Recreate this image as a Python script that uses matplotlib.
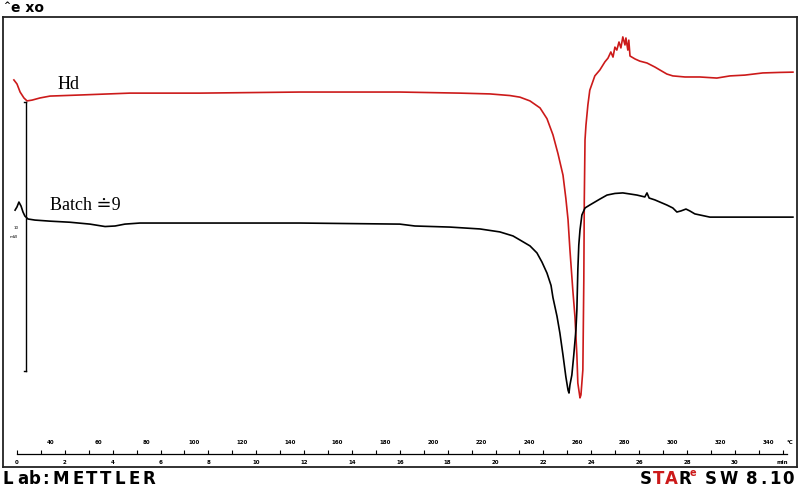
import matplotlib.pyplot as plt
import matplotlib.transforms as mtransforms

# time in min, heat flow in mW (offset traces)
hd_time = [-0.13, 0.0, 0.13, 0.29, 0.42, 0.63, 0.96, 1.38, 2.63, 4.72, 7.65, 11.83, 16.0,
           18.51, 19.77, 20.6, 21.02, 21.44, 21.86, 22.15, 22.4, 22.61, 22.82, 22.94, 23.03,
           23.11, 23.23, 23.32, 23.4, 23.44, 23.53, 23.57, 23.65, 23.69, 23.71, 23.74, 23.78,
           23.86, 23.94, 24.15, 24.36, 24.57, 24.7, 24.82, 24.91, 24.99, 25.07, 25.16, 25.24,
           25.32, 25.41, 25.45, 25.53, 25.57, 25.62, 25.83, 26.03, 26.33, 26.66, 26.87, 27.16,
           27.41, 27.92, 28.54, 29.25, 29.8, 30.42, 31.17, 31.88, 32.43]
hd_flow = [14.39, 14.24, 13.94, 13.72, 13.61, 13.64, 13.72, 13.79, 13.83, 13.9, 13.9, 13.94, 13.94,
           13.9, 13.87, 13.81, 13.75, 13.61, 13.35, 12.95, 12.35, 11.65, 10.85, 9.98, 9.2,
           8.07, 6.58, 5.58, 4.16, 3.12, 2.57, 2.68, 3.61, 6.95, 9.93, 12.16, 12.71,
           13.46, 14.01, 14.54, 14.76, 15.06, 15.2, 15.43, 15.24, 15.61, 15.5, 15.8, 15.58,
           15.99, 15.69, 15.95, 15.5, 15.87, 15.28, 15.17, 15.09, 15.02, 14.87, 14.76, 14.61,
           14.54, 14.5, 14.5, 14.46, 14.54, 14.57, 14.65, 14.67, 14.68]

batch_time = [-0.08, 0.0, 0.08, 0.17, 0.25, 0.33, 0.46, 0.75, 1.38, 2.21, 3.05, 3.68, 4.1, 4.51,
              5.14, 7.65, 11.83, 16.0, 16.63, 18.09, 19.35, 20.18, 20.73, 21.02, 21.44, 21.73,
              21.94, 22.15, 22.32, 22.4, 22.57, 22.69, 22.82, 22.94, 23.03, 23.07, 23.11, 23.19,
              23.27, 23.36, 23.4, 23.44, 23.48, 23.53, 23.61, 23.74, 23.94, 24.15, 24.36, 24.66,
              24.99, 25.32, 25.62, 25.91, 26.24, 26.33, 26.42, 26.66, 26.87, 27.16, 27.41, 27.58,
              27.75, 27.96, 28.12, 28.33, 28.54, 28.96, 29.8, 32.43]
batch_flow = [9.55, 9.67, 9.85, 9.7, 9.48, 9.33, 9.22, 9.18, 9.14, 9.1, 9.03, 8.94, 8.96, 9.03,
              9.07, 9.07, 9.07, 9.03, 8.96, 8.92, 8.85, 8.74, 8.59, 8.44, 8.22, 7.96,
              7.62, 7.21, 6.75, 6.3, 5.6, 4.98, 4.16, 3.35, 2.86, 2.75, 3.05, 3.42,
              4.16, 5.09, 5.84, 7.32, 8.25, 8.81, 9.37, 9.63, 9.74, 9.85, 9.96, 10.11,
              10.17, 10.19, 10.15, 10.11, 10.04, 10.19, 10.0, 9.93, 9.85, 9.74, 9.63, 9.48,
              9.52, 9.59, 9.52, 9.41, 9.37, 9.29, 9.29, 9.29]

min_ticks = list(range(0, 32, 2))
temp_ticks = list(range(40, 341, 20))

red = "#cc1a1a"

fig = plt.figure(figsize=(7.99, 4.87), dpi=100)
ax = fig.add_axes([3 / 799, 20 / 487, 794 / 799, 450 / 487])
ax.set_xlim(-0.585, 32.6)
ax.set_ylim(0, 16.73)
ax.set_xticks([])
ax.set_yticks([])
for s in ax.spines.values():
    s.set_linewidth(1.3)
    s.set_color("#222222")

ax.plot(hd_time, hd_flow, color=red, lw=1.2)
ax.plot(batch_time, batch_flow, color="black", lw=1.2)

ax.text(1.7, 13.9, "Hd", fontsize=13, family=["Liberation Serif", "DejaVu Serif"], va="bottom")
ax.text(1.4, 9.4, "Batch \u22509", fontsize=13, family=["Liberation Serif", "DejaVu Serif"], va="bottom")

# 10 mW scale bar
ax.plot([0.38, 0.38], [3.56, 13.56], color="black", lw=1.0)
ax.plot([0.28, 0.38], [3.56, 3.56], color="black", lw=1.0)
ax.plot([0.28, 0.38], [13.56, 13.56], color="black", lw=1.0)
ax.text(-0.05, 8.9, "10", fontsize=3, ha="center", va="center")
ax.text(-0.15, 8.55, "mW", fontsize=3, ha="center", va="center")

# time / temperature ruler
trans = mtransforms.blended_transform_factory(ax.transData, ax.transAxes)
ruler_y = 13 / 450
ax.plot([0, 32.2], [ruler_y, ruler_y], color="black", lw=0.9, transform=trans)
ax.vlines(range(0, 33), ruler_y, ruler_y + 4 / 450, color="black", lw=0.8, transform=trans)
for m in min_ticks:
    ax.text(m, 5 / 450, str(m), fontsize=4, ha="center", va="center", transform=trans, weight="bold")
ax.text(32.0, 5 / 450, "min", fontsize=4, ha="center", va="center", transform=trans, weight="bold")
for T in temp_ticks:
    ax.text((T - 26) / 10, 24 / 450, str(T), fontsize=4, ha="center", va="center", transform=trans, weight="bold")
ax.text(32.3, 24 / 450, "\u00b0C", fontsize=4, ha="center", va="center", transform=trans, weight="bold")

# header / footer texts (pixel positions)
def fx(px):
    return px / 799

def fy(py):
    return 1 - py / 487

fig.text(fx(3), fy(5), "^", fontsize=6, weight="bold", va="center")
fig.text(fx(11), fy(8), "e xo", fontsize=10, weight="bold", va="center")

lab = "Lab: METTLER"
lab_x = [3, 17, 29, 42, 52, 72, 86, 100, 115, 129, 143]
chars = [c for c in lab if c != " "]
for c, x in zip(chars, lab_x):
    fig.text(fx(x), fy(479), c, fontsize=12, weight="bold", va="center")

star_parts = [("S", 640, "black"), ("T", 653, red), ("A", 665, red), ("R", 678, "black"),
              ("S", 705, "black"), ("W", 719, "black"), ("8", 746, "black"), (".", 760, "black"),
              ("1", 769, "black"), ("0", 782, "black")]
for c, x, col in star_parts:
    fig.text(fx(x), fy(479), c, fontsize=12, weight="bold", va="center", color=col)
fig.text(fx(690), fy(473), "e", fontsize=7, weight="bold", va="center", color=red)

fig.savefig("out.png", dpi=100)
